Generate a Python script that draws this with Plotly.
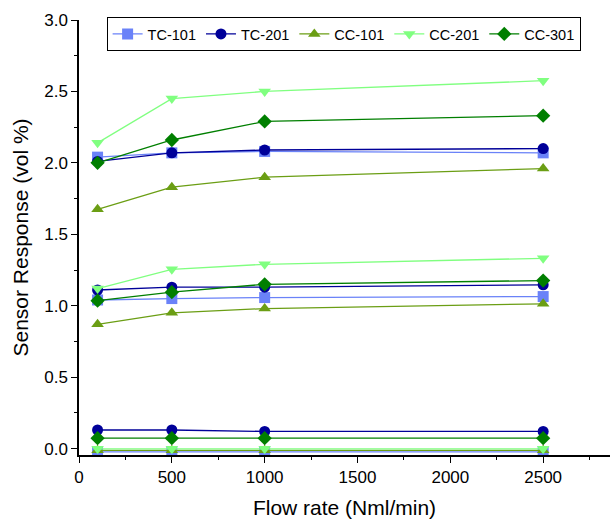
import plotly.graph_objects as go

flow = [100, 500, 1000, 2500]
series_names = ["TC-101", "TC-201", "CC-101", "CC-201", "CC-301"]

# three concentration groups per sensor (high, mid, low)
tc101 = [[2.04, 2.07, 2.08, 2.07], [1.04, 1.05, 1.057, 1.064], [-0.023, -0.023, -0.023, -0.023]]
tc201 = [[2.01, 2.07, 2.09, 2.10], [1.11, 1.13, 1.13, 1.146], [0.13, 0.13, 0.12, 0.12]]
cc101 = [[1.675, 1.83, 1.90, 1.96], [0.87, 0.95, 0.98, 1.013], [-0.012, -0.012, -0.012, -0.012]]
cc201 = [[2.14, 2.45, 2.50, 2.575], [1.12, 1.255, 1.29, 1.332], [-0.002, -0.002, -0.002, -0.002]]
cc301 = [[2.00, 2.16, 2.29, 2.33], [1.035, 1.095, 1.15, 1.176], [0.073, 0.073, 0.073, 0.073]]

colors = ["#6A82F8", "#000099", "#6B9E14", "#80FF80", "#007F00"]
symbols = ["square", "circle", "triangle-up", "triangle-down", "diamond"]
data = [tc101, tc201, cc101, cc201, cc301]

fig = go.Figure()
for name, groups, col, sym in zip(series_names, data, colors, symbols):
    xs, ys = [], []
    for g in groups:
        xs += flow + [None]
        ys += g + [None]
    fig.add_trace(go.Scatter(
        x=xs, y=ys, name=name, mode="lines+markers",
        line=dict(color=col, width=1.3),
        marker=dict(symbol=sym, size=11, color=col, line=dict(width=0)),
        connectgaps=False,
    ))

fig.update_layout(
    width=612, height=523,
    margin=dict(l=79, r=2, t=20, b=68),
    plot_bgcolor="white", paper_bgcolor="white",
    font=dict(family="Liberation Sans, Arial, sans-serif", color="black"),
    showlegend=True,
    legend=dict(
        orientation="h", x=0.052, y=1.007, xanchor="left", yanchor="top",
        bordercolor="black", borderwidth=1, bgcolor="white",
        font=dict(size=14.5), itemwidth=30, tracegroupgap=0,
    ),
)
fig.update_xaxes(
    range=[0, 2860], tickvals=[0, 500, 1000, 1500, 2000, 2500],
    ticks="outside", ticklen=6, tickwidth=1.3, tickcolor="black",
    minor=dict(dtick=250, ticks="outside", ticklen=3, tickwidth=1.3, tickcolor="black"),
    showline=True, linecolor="black", linewidth=1.5, showgrid=False, zeroline=False,
    tickfont=dict(size=17),
    title=dict(text="Flow rate (Nml/min)", font=dict(size=21), standoff=14),
)
fig.update_yaxes(
    range=[-0.045, 3.0], tickvals=[0, 0.5, 1.0, 1.5, 2.0, 2.5, 3.0],
    tickformat=".1f",
    ticks="outside", ticklen=6, tickwidth=1.3, tickcolor="black",
    minor=dict(dtick=0.25, tick0=0, ticks="outside", ticklen=3, tickwidth=1.3, tickcolor="black"),
    showline=True, linecolor="black", linewidth=1.5, showgrid=False, zeroline=False,
    tickfont=dict(size=17),
    title=dict(text="Sensor Response (vol %)", font=dict(size=21), standoff=10),
)

fig.write_html("out.html")
